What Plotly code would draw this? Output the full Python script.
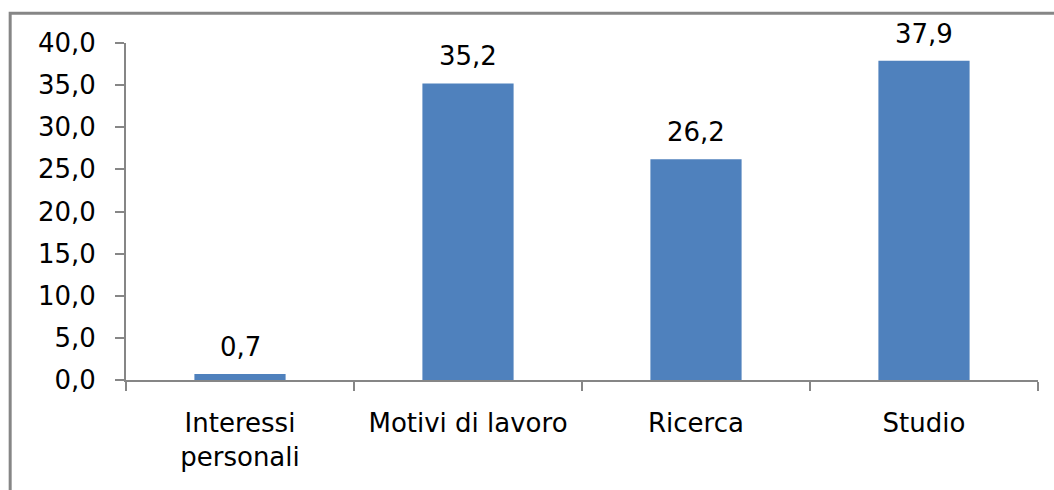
import plotly.graph_objects as go

categories = ["Interessi<br>personali", "Motivi di lavoro", "Ricerca", "Studio"]
values = [0.7, 35.2, 26.2, 37.9]
y_ticks = [0, 5, 10, 15, 20, 25, 30, 35, 40]

FONT = "DejaVu Sans, Verdana, sans-serif"
AXIS_GREY = "#868686"
BAR_BLUE = "#4F81BD"
TEXT_SIZE = 26

fig = go.Figure()
fig.add_trace(go.Bar(
    x=categories,
    y=values,
    marker=dict(color=BAR_BLUE, line=dict(width=0)),
    hoverinfo="skip",
))

# value labels above each bar, Italian decimal comma
for cat, v in zip(categories, values):
    fig.add_annotation(
        x=cat, y=v, xref="x", yref="y",
        text=f"{v:.1f}".replace(".", ","),
        showarrow=False, yanchor="bottom", yshift=10,
        font=dict(family=FONT, size=TEXT_SIZE, color="#000000"),
    )

fig.update_layout(
    width=1054, height=490,
    margin=dict(l=126, r=16, t=43, b=110),
    paper_bgcolor="white", plot_bgcolor="white",
    bargap=0.6,
    separators=", ",
    showlegend=False,
    font=dict(family=FONT, size=TEXT_SIZE, color="#000000"),
    xaxis=dict(
        type="category",
        showline=True, linecolor=AXIS_GREY, linewidth=2,
        ticks="outside", tickson="boundaries", ticklen=9,
        tickcolor=AXIS_GREY, tickwidth=2,
        showgrid=False, zeroline=False,
        tickfont=dict(family=FONT, size=TEXT_SIZE, color="#000000"),
        ticklabelstandoff=19,
    ),
    yaxis=dict(
        range=[0, 40], tickvals=y_ticks, tickformat=".1f",
        showline=True, linecolor=AXIS_GREY, linewidth=2,
        ticks="outside", ticklen=9, tickcolor=AXIS_GREY, tickwidth=2,
        showgrid=False, zeroline=False,
        tickfont=dict(family=FONT, size=TEXT_SIZE, color="#000000"),
        ticklabelstandoff=14,
    ),
    shapes=[dict(
        type="rect", xref="paper", yref="paper",
        x0=-0.127, x1=1.1, y0=-0.4, y1=1.088,
        line=dict(color=AXIS_GREY, width=3),
        fillcolor="rgba(0,0,0,0)", layer="below",
    )],
)

fig.write_html("out.html")
